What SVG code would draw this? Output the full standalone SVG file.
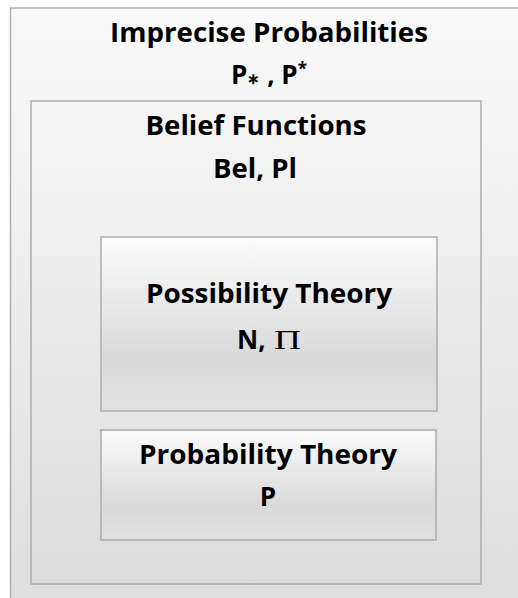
<svg xmlns="http://www.w3.org/2000/svg" width="518" height="598" viewBox="0 0 518 598">
<defs>
<linearGradient id="gOuter" x1="0" y1="0" x2="0" y2="1">
<stop offset="0" stop-color="#f9f9f9"/>
<stop offset="1" stop-color="#dedede"/>
</linearGradient>
<linearGradient id="gBel" x1="0" y1="0" x2="0" y2="1">
<stop offset="0" stop-color="#f6f6f6"/>
<stop offset="1" stop-color="#dcdcdc"/>
</linearGradient>
<linearGradient id="gInner" x1="0" y1="0" x2="0" y2="1">
<stop offset="0" stop-color="#fbfbfb"/>
<stop offset="0.7" stop-color="#d9d9d9"/>
<stop offset="1" stop-color="#e2e2e2"/>
</linearGradient>
<style>
.box{stroke:#adadad;stroke-width:1.5}
.t{font-family:"Open Sans","Liberation Sans",sans-serif;font-weight:bold;font-size:26px;fill:#000;text-anchor:middle}
.pi{font-family:"Liberation Serif","DejaVu Serif",serif;font-weight:normal;font-size:28px;fill:#000}
</style>
</defs>
<rect width="518" height="598" fill="#ffffff"/>
<g id="imprecise">
<rect class="box" x="10.5" y="8" width="520" height="600" fill="url(#gOuter)"/>
<text class="t" x="269" y="42" textLength="318" lengthAdjust="spacingAndGlyphs">Imprecise Probabilities</text>
<text class="t" x="269" y="84">P<tspan font-size="15">∗</tspan><tspan> , P</tspan><tspan font-size="17" dy="-9">*</tspan></text>
</g>
<g id="belief">
<rect class="box" x="31" y="101" width="450" height="483" fill="url(#gBel)"/>
<text class="t" x="256" y="135" textLength="221" lengthAdjust="spacingAndGlyphs">Belief Functions</text>
<text class="t" x="255" y="178" textLength="84" lengthAdjust="spacingAndGlyphs">Bel, Pl</text>
</g>
<g id="possibility">
<rect class="box" x="101" y="237" width="336" height="174" fill="url(#gInner)"/>
<text class="t" x="269" y="303" textLength="246" lengthAdjust="spacingAndGlyphs">Possibility Theory</text>
<text class="t" x="237" y="349" style="text-anchor:start">N,</text>
<text class="pi" x="274" y="349" textLength="27" lengthAdjust="spacingAndGlyphs">Π</text>
</g>
<g id="probability">
<rect class="box" x="101" y="430" width="335" height="110" fill="url(#gInner)"/>
<text class="t" x="268" y="464" textLength="258" lengthAdjust="spacingAndGlyphs">Probability Theory</text>
<text class="t" x="268" y="506">P</text>
</g>
<g id="connectors"/>
</svg>
